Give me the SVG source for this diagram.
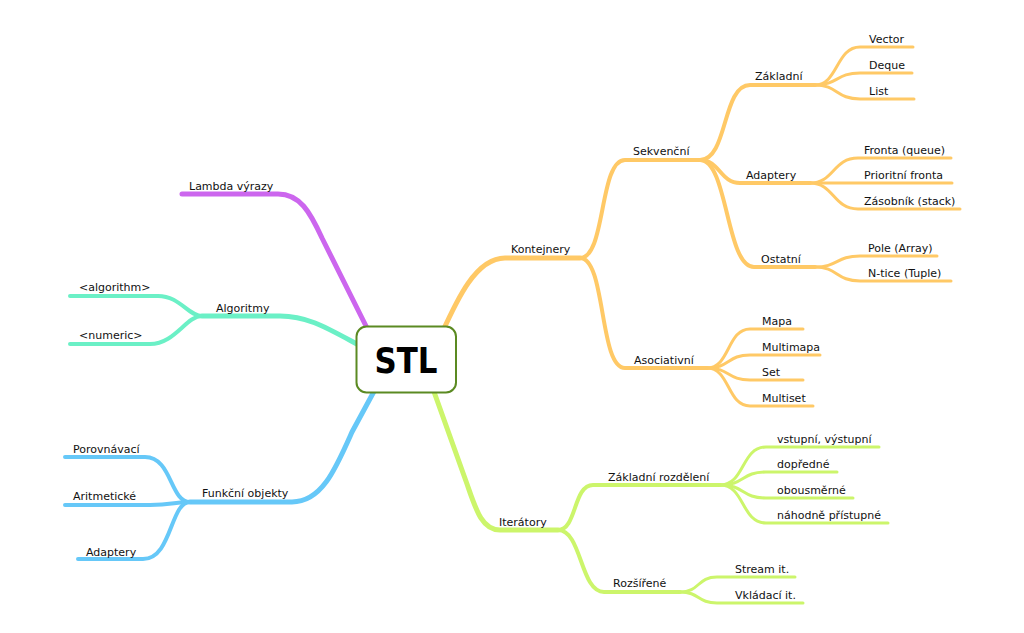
<svg xmlns="http://www.w3.org/2000/svg" width="1024" height="633" viewBox="0 0 1024 633">
<style>
.c{fill:none;stroke-linecap:round;stroke-linejoin:round}
.o{stroke:#FFC966}.g{stroke:#CCF56B}.t{stroke:#6BF0C6}.p{stroke:#CC66EE}.b{stroke:#66C8F8}
.w5{stroke-width:5}.w4{stroke-width:4}.w3{stroke-width:3}
text{font-family:"DejaVu Sans","Liberation Sans",sans-serif;font-size:11px;fill:#111}
.stl{font-family:"DejaVu Sans","Liberation Sans",sans-serif;font-weight:bold;font-size:35px;fill:#000}
</style>
<rect width="1024" height="633" fill="#fff"/>
<g id="connectors">
<!-- Kontejnery -->
<path class="c o w5" d="M436 346 C452 312 472 258 505 258 L580 258"/>
<path class="c o w4" d="M580 258 C606 258 599 160 625 160 L700 160"/>
<path class="c o w4" d="M580 258 C606 258 599 368 625 368 L707 368"/>
<path class="c o w4" d="M700 160 C728 160 722 85 750 85 L815 85"/>
<path class="c o w4" d="M700 160 C720 160 720 183 740 183 L810 183"/>
<path class="c o w4" d="M700 160 C728 160 726 267 754 267 L815 267"/>
<path class="c o w3" d="M815 85 C838 85 836 47 860 47 L913 47"/>
<path class="c o w3" d="M815 85 C838 85 836 73 860 73 L912 73"/>
<path class="c o w3" d="M815 85 C838 85 836 99 860 99 L914 99"/>
<path class="c o w3" d="M810 183 C834 183 833 158 858 158 L951 158"/>
<path class="c o w3" d="M810 183 L952 183"/>
<path class="c o w3" d="M810 183 C834 183 833 209 858 209 L960 209"/>
<path class="c o w3" d="M815 267 C838 267 836 256 860 256 L937 256"/>
<path class="c o w3" d="M815 267 C838 267 836 281 860 281 L951 281"/>
<path class="c o w3" d="M707 368 C730 368 727 329 750 329 L803 329"/>
<path class="c o w3" d="M707 368 C730 368 727 355 750 355 L820 355"/>
<path class="c o w3" d="M707 368 C730 368 727 380 750 380 L803 380"/>
<path class="c o w3" d="M707 368 C730 368 727 406 750 406 L813 406"/>
<!-- Iterátory -->
<path class="c g w5" d="M428 375 L467 484 C476 510 482 530 500 530 L558 530"/>
<path class="c g w4" d="M558 530 C577 530 573 485 593 485 L720 485"/>
<path class="c g w4" d="M558 530 C582 530 580 592 604 592 L680 592"/>
<path class="c g w3" d="M720 485 C745 485 741 447 766 447 L879 447"/>
<path class="c g w3" d="M720 485 C745 485 741 472 766 472 L837 472"/>
<path class="c g w3" d="M720 485 C745 485 741 498 766 498 L853 498"/>
<path class="c g w3" d="M720 485 C745 485 741 523 766 523 L888 523"/>
<path class="c g w3" d="M680 592 C700 592 697 577 717 577 L795 577"/>
<path class="c g w3" d="M680 592 C700 592 697 603 717 603 L803 603"/>
<!-- Lambda -->
<path class="c p w5" d="M182 194 L278 194 C300 194 310 212 322 238 L372 338"/>
<!-- Algoritmy -->
<path class="c t w5" d="M202 316 L280 316 C310 316 330 330 368 350"/>
<path class="c t w4" d="M70 296 L158 296 C180 296 188 316 202 316"/>
<path class="c t w4" d="M70 344 L150 344 C175 344 186 316 202 316"/>
<!-- Funkční objekty -->
<path class="c b w5" d="M190 502 L292 502 C322 502 336 468 352 432 L378 384"/>
<path class="c b w4" d="M65 457 L145 457 C172 457 170 502 190 502"/>
<path class="c b w4" d="M65 505 L150 505 C172 505 175 502 190 502"/>
<path class="c b w4" d="M78 559 L143 559 C172 559 170 502 190 502"/>
</g>
<g id="stl">
<rect x="356.5" y="326.5" width="99.5" height="66" rx="10" fill="#fff" stroke="#5B8A22" stroke-width="2"/>
<text class="stl" x="406" y="373" text-anchor="middle" textLength="63" lengthAdjust="spacingAndGlyphs">STL</text>
</g>
<g id="kontejnery"><text x="511" y="253">Kontejnery</text></g>
<g id="sekvencni"><text x="633" y="155">Sekvenční</text></g>
<g id="zakladni"><text x="755" y="80">Základní</text></g>
<g id="vector"><text x="869" y="43">Vector</text></g>
<g id="deque"><text x="869" y="69">Deque</text></g>
<g id="list"><text x="869" y="95">List</text></g>
<g id="adaptery-k"><text x="746" y="179">Adaptery</text></g>
<g id="fronta"><text x="864" y="154">Fronta (queue)</text></g>
<g id="prioritni"><text x="864" y="179">Prioritní fronta</text></g>
<g id="zasobnik"><text x="864" y="205">Zásobník (stack)</text></g>
<g id="ostatni"><text x="761" y="263">Ostatní</text></g>
<g id="pole"><text x="868" y="252">Pole (Array)</text></g>
<g id="ntice"><text x="868" y="277">N-tice (Tuple)</text></g>
<g id="asociativni"><text x="634" y="364">Asociativní</text></g>
<g id="mapa"><text x="762" y="325">Mapa</text></g>
<g id="multimapa"><text x="762" y="351">Multimapa</text></g>
<g id="set"><text x="762" y="376">Set</text></g>
<g id="multiset"><text x="762" y="402">Multiset</text></g>
<g id="iteratory"><text x="499" y="526">Iterátory</text></g>
<g id="zakladni-rozdeleni"><text x="608" y="481">Základní rozdělení</text></g>
<g id="vstupni"><text x="777" y="443">vstupní, výstupní</text></g>
<g id="dopredne"><text x="777" y="468">dopředné</text></g>
<g id="obousmerne"><text x="777" y="494">obousměrné</text></g>
<g id="nahodne"><text x="777" y="519">náhodně přístupné</text></g>
<g id="rozsirene"><text x="613" y="587">Rozšířené</text></g>
<g id="stream"><text x="735" y="573">Stream it.</text></g>
<g id="vkladaci"><text x="735" y="599">Vkládací it.</text></g>
<g id="lambda"><text x="189" y="190">Lambda výrazy</text></g>
<g id="algoritmy"><text x="216" y="312">Algoritmy</text></g>
<g id="algorithm"><text x="79" y="291">&lt;algorithm&gt;</text></g>
<g id="numeric"><text x="79" y="339">&lt;numeric&gt;</text></g>
<g id="funkcni"><text x="202" y="497">Funkční objekty</text></g>
<g id="porovnavaci"><text x="73" y="453">Porovnávací</text></g>
<g id="aritmeticke"><text x="73" y="500">Aritmetické</text></g>
<g id="adaptery-f"><text x="86" y="556">Adaptery</text></g>
</svg>
